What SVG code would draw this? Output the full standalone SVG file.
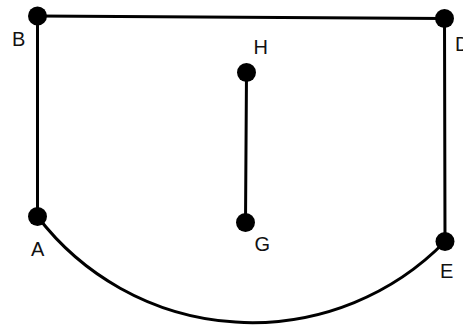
<svg xmlns="http://www.w3.org/2000/svg" width="463" height="329" viewBox="0 0 463 329">
<style>
.edge{stroke:#000;stroke-width:3;fill:none;stroke-linecap:round}
.pt{fill:#000}
.lbl{font-family:"Liberation Sans",Arial,sans-serif;font-size:20px;fill:#111}
</style>
<rect width="463" height="329" fill="#fff"/>
<g id="connectors">
<line class="edge" x1="37.5" y1="16" x2="444.5" y2="18.5"/>
<line class="edge" x1="37.5" y1="16" x2="37.5" y2="216.5"/>
<line class="edge" x1="444.5" y1="18.5" x2="445" y2="241.5"/>
<line class="edge" x1="246.5" y1="72.5" x2="245.5" y2="222.5"/>
<path class="edge" d="M37.5,216.5 A270,270 0 0,0 445,241.5"/>
</g>
<g id="B"><circle class="pt" cx="37.5" cy="16" r="9.5"/><text class="lbl" x="12" y="46">B</text></g>
<g id="D"><circle class="pt" cx="444.5" cy="18.5" r="9.5"/><text class="lbl" x="455" y="51">D</text></g>
<g id="A"><circle class="pt" cx="37.5" cy="216.5" r="9.5"/><text class="lbl" x="31" y="256">A</text></g>
<g id="E"><circle class="pt" cx="445" cy="241.5" r="9.5"/><text class="lbl" x="440" y="278">E</text></g>
<g id="H"><circle class="pt" cx="246.5" cy="72.5" r="9.5"/><text class="lbl" x="253.5" y="54">H</text></g>
<g id="G"><circle class="pt" cx="245.5" cy="222.5" r="9.5"/><text class="lbl" x="254.5" y="251">G</text></g>
</svg>
